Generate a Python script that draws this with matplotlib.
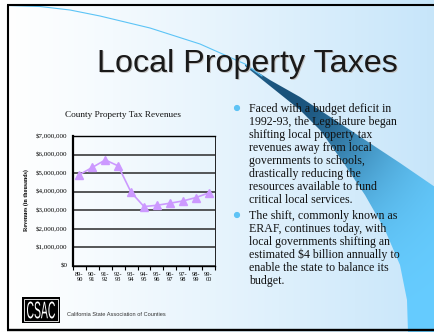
import numpy as np
import matplotlib
matplotlib.use("Agg")
import matplotlib.pyplot as plt
from matplotlib.patches import Polygon, Rectangle, Circle, PathPatch
from matplotlib.textpath import TextPath
from matplotlib.font_manager import FontProperties
from matplotlib.transforms import Affine2D

# ---- data ----
years = ["89-\n90", "90-\n91", "91-\n92", "92-\n93", "93-\n94", "94-\n95",
         "95-\n96", "96-\n97", "97-\n98", "98-\n99", "99-\n00"]
revenues = [4920000, 5310000, 5710000, 5390000, 3970000, 3200000,
            3270000, 3380000, 3500000, 3680000, 3930000]
ytick_vals = [0, 1000000, 2000000, 3000000, 4000000, 5000000, 6000000, 7000000]
ytick_labels = ["$0", "$1,000,000", "$2,000,000", "$3,000,000",
                "$4,000,000", "$5,000,000", "$6,000,000", "$7,000,000"]

bullet1 = ["Faced with a budget deficit in",
           "1992-93, the Legislature began",
           "shifting local property tax",
           "revenues away from local",
           "governments to schools,",
           "drastically reducing the",
           "resources available to fund",
           "critical local services."]
bullet2 = ["The shift, commonly known as",
           "ERAF, continues today, with",
           "local governments shifting an",
           "estimated $4 billion annually to",
           "enable the state to balance its",
           "budget."]

W, H = 435, 332
SERIF = "Liberation Serif"
SANS = "Liberation Sans"

fig = plt.figure(figsize=(W / 100, H / 100), dpi=100)

# ---- slide background (pixel coordinates) ----
bg = fig.add_axes([0, 0, 1, 1], zorder=0)
bg.set_xlim(0, W)
bg.set_ylim(H, 0)
bg.axis("off")

gx = np.linspace(0, 1, 200)
white = np.array([1.0, 1.0, 1.0])
blue = np.array([0.78, 0.90, 0.98])
grad = white[None, :] * (1 - gx[:, None] ** 1.2) + blue[None, :] * gx[:, None] ** 1.2
bg.imshow(grad[None, :, :], extent=(0, W, H, 0), aspect="auto", zorder=0)

# swoosh band: upper edge and lower edge, closed along the right/bottom
upper = [(245, 64), (270, 80), (300, 97), (350, 130), (400, 163), (435, 187)]
lower = [(245, 66), (270, 86), (300, 110), (320, 130), (345, 165), (365, 195),
         (385, 230), (400, 265), (407, 300), (408, 332)]
poly_pts = upper + [(435, 332)] + lower[::-1]
band = Polygon(poly_pts, closed=True, facecolor="none", edgecolor="none")
bg.add_patch(band)

yy, xx = np.mgrid[0:H, 0:W]
d = np.hypot(xx - 285.0, yy - 100.0)
w = np.exp(-(d ** 2) / (2 * 75.0 ** 2))
light = np.array([0.40, 0.80, 1.0])
dark = np.array([0.10, 0.32, 0.48])
swoosh = light[None, None, :] * (1 - w[..., None]) + dark[None, None, :] * w[..., None]
im = bg.imshow(swoosh, extent=(0, W, H, 0), aspect="auto", zorder=1)
im.set_clip_path(band)

# thin leading stroke of the swoosh
sx = [8, 40, 70, 100, 150, 200, 245, 262]
sy = [5.5, 6.5, 10, 16, 28, 44, 64, 76]
bg.plot(sx, sy, color="#5cc4f6", lw=0.8, zorder=1)

# slide frame
bg.plot([8, 8], [5, 330], color="black", lw=1.5, zorder=3, solid_capstyle="butt")
bg.plot([7, W], [5, 5], color="black", lw=1.5, zorder=3, solid_capstyle="butt")
bg.plot([7, W], [330, 330], color="black", lw=1.7, zorder=3, solid_capstyle="butt")

# title with soft drop shadow
title = "Local Property Taxes"
bg.text(98, 73, title, fontsize=23.2, family=SANS, color="#c4c4c4",
        ha="left", va="baseline", zorder=4)
bg.text(97, 72, title, fontsize=23.2, family=SANS, color="#1a1a1a",
        ha="left", va="baseline", zorder=5)

# bullet text
for block, y0 in ((bullet1, 112), (bullet2, 219)):
    bg.add_patch(Circle((237, y0 - 4), 2.4, color="#5ec3f5", zorder=4))
    for i, line in enumerate(block):
        bg.text(249, y0 + 13 * i, line, fontsize=8.6, family=SERIF,
                color="#111111", ha="left", va="baseline", zorder=5,
                parse_math=False)

# footer logo (condensed white lettering on black) + organisation name
bg.add_patch(Rectangle((22, 297), 38, 26, facecolor="black", edgecolor="none", zorder=4))
bg.add_patch(Rectangle((24, 299), 34, 22, facecolor="none", edgecolor="white",
                       lw=0.6, zorder=5))
logo_path = TextPath((0, 0), "CSAC", size=10, prop=FontProperties(family=SANS))
lb = logo_path.get_extents()
logo_tr = (Affine2D().translate(-lb.x0 - lb.width / 2, -lb.y0 - lb.height / 2)
           .scale(28 / lb.width, -17 / lb.height).translate(41, 310))
bg.add_patch(PathPatch(logo_tr.transform_path(logo_path), facecolor="white",
                       edgecolor="none", zorder=6))
bg.text(67, 314, "California State Association of Counties", fontsize=4.1,
        family=SANS, color="#333333", ha="left", va="center", zorder=5)

# chart title
bg.text(123, 117, "County Property Tax Revenues", fontsize=6.7, family=SERIF,
        color="#111111", ha="center", va="baseline", zorder=5)

# ---- line chart ----
left, right, top, bottom = 73, 215, 136, 266
ax = fig.add_axes([left / W, (H - bottom) / H, (right - left) / W, (bottom - top) / H],
                  zorder=2)
ax.patch.set_alpha(0)

x = np.arange(len(years))
ax.plot(x, revenues, color="#cc99ff", lw=1.2, marker="^", markersize=5.8,
        markerfacecolor="#cc99ff", markeredgecolor="#cc99ff", zorder=3)

ax.set_xlim(-0.5, len(years) - 0.5)
ax.set_ylim(0, 7000000)
ax.set_yticks(ytick_vals)
ax.set_yticklabels(ytick_labels, fontsize=5.0, family=SERIF)
ax.tick_params(axis="y", length=0, pad=4)
ax.yaxis.grid(True, color="#2a2a2a", lw=1.1)

# ticks between categories, labels at category centres
ax.set_xticks(np.arange(len(years) + 1) - 0.5)
ax.set_xticklabels([])
ax.set_xticks(x, minor=True)
ax.set_xticklabels(years, minor=True, fontsize=4.6, family=SERIF, linespacing=1.15)
ax.tick_params(axis="x", which="major", length=3, width=0.8, direction="out")
ax.tick_params(axis="x", which="minor", length=0, pad=4)

ax.spines["left"].set_linewidth(1.6)
ax.spines["bottom"].set_linewidth(1.0)
ax.spines["top"].set_linewidth(1.0)
ax.spines["right"].set_linewidth(0.6)
for s in ax.spines.values():
    s.set_color("black")

ax.set_ylabel("Revenues (in thousands)", fontsize=4.3, family=SERIF, fontweight="bold")
ax.yaxis.set_label_coords(-0.31, 0.51)

fig.savefig("out.png", dpi=100)
